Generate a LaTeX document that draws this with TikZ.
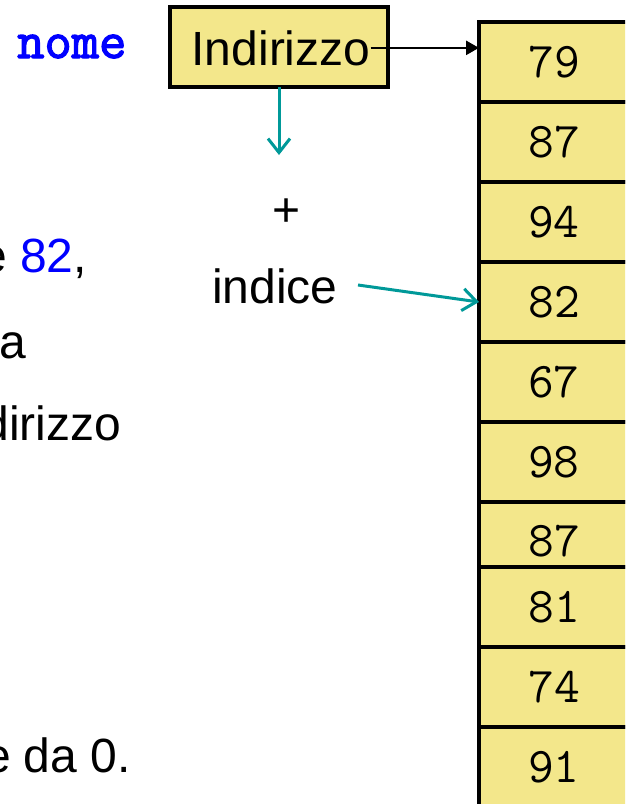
\documentclass[tikz,border=0pt]{standalone}
\usepackage{fontspec}
\setmainfont{Liberation Sans}
\newfontfamily\nomef[FakeBold=2.5]{Latin Modern Mono}
\usetikzlibrary{arrows.meta}
\definecolor{cellyellow}{RGB}{243,231,139}
\definecolor{tealarr}{RGB}{0,153,153}
\definecolor{pureblue}{RGB}{0,0,255}
\tikzset{
  cell/.style={draw=black, line width=3.4pt, fill=cellyellow, minimum width=150pt, inner sep=0pt, outer sep=0pt},
  num/.style={font=\ttfamily\fontsize{50}{54}\selectfont, inner sep=0pt},
  sans/.style={font=\fontsize{48}{56}\selectfont, inner sep=0pt},
  tealarrow/.style={draw=tealarr, line width=3pt, -{Straight Barb[length=14pt,width=22pt]}},
  blackarrow/.style={draw=black, line width=2.6pt, -{Triangle[length=13pt,width=14pt]}},
  addrbox/.style={draw=black, line width=3.4pt, fill=cellyellow, minimum width=218pt, minimum height=80pt, inner sep=0pt, outer sep=0pt}
}
\begin{document}
\begin{tikzpicture}[x=1pt,y=-1pt]
\useasboundingbox (0,0) rectangle (625,804);
\clip (0,0) rectangle (625,804);
\fill[white] (0,0) rectangle (625,804);

% array cells
\foreach \i/\yc/\h/\v/\s in {0/62/80/79/0, 1/142/80/87/0, 2/222/80/94/0, 3/302/80/82/0, 4/382/80/67/0, 5/462/80/98/0, 6/534.5/65/87/6.5, 7/607/80/81/0, 8/687/80/74/0, 9/767/80/91/0}{
  \node[cell, minimum height=\h pt] (c\i) at (554,\yc) {};
  \node[num, yshift=-\s pt] (n\i) at (c\i.center) {\v};
}

% address box
\node[addrbox] (box) at (279,47) {};
\node[sans, anchor=base] (indtxt) at (281,65) {Indirizzo};

% name label
\node[font=\nomef\fontsize{53}{56}\selectfont, text=pureblue, anchor=base west, inner sep=0pt] (nome) at (17,58) {nome};

% plus and indice
\node[sans] (plus) at (287,213) {+};
\node[sans, anchor=base west] (indice) at (212,303) {indice};

% arrows
\draw[blackarrow] (indtxt.east) -- (indtxt.east -| c0.west);
\coordinate (vt) at (279,155);
\draw[tealarrow] (box.south) -- (vt);
\coordinate (ia) at (358,285);
\draw[tealarrow] (ia) -- (c3.west);

% left text fragments (cut by the picture edge)
\node[sans, anchor=base east] (t1) at (87,272) {e \textcolor{pureblue}{82},};
\node[sans, anchor=base east] (t2) at (26.5,358) {a};
\node[sans, anchor=base east] (t3) at (121.5,440) {dirizzo};
\node[sans, anchor=base east] (t4) at (131,772) {e da 0.};
\end{tikzpicture}
\end{document}
